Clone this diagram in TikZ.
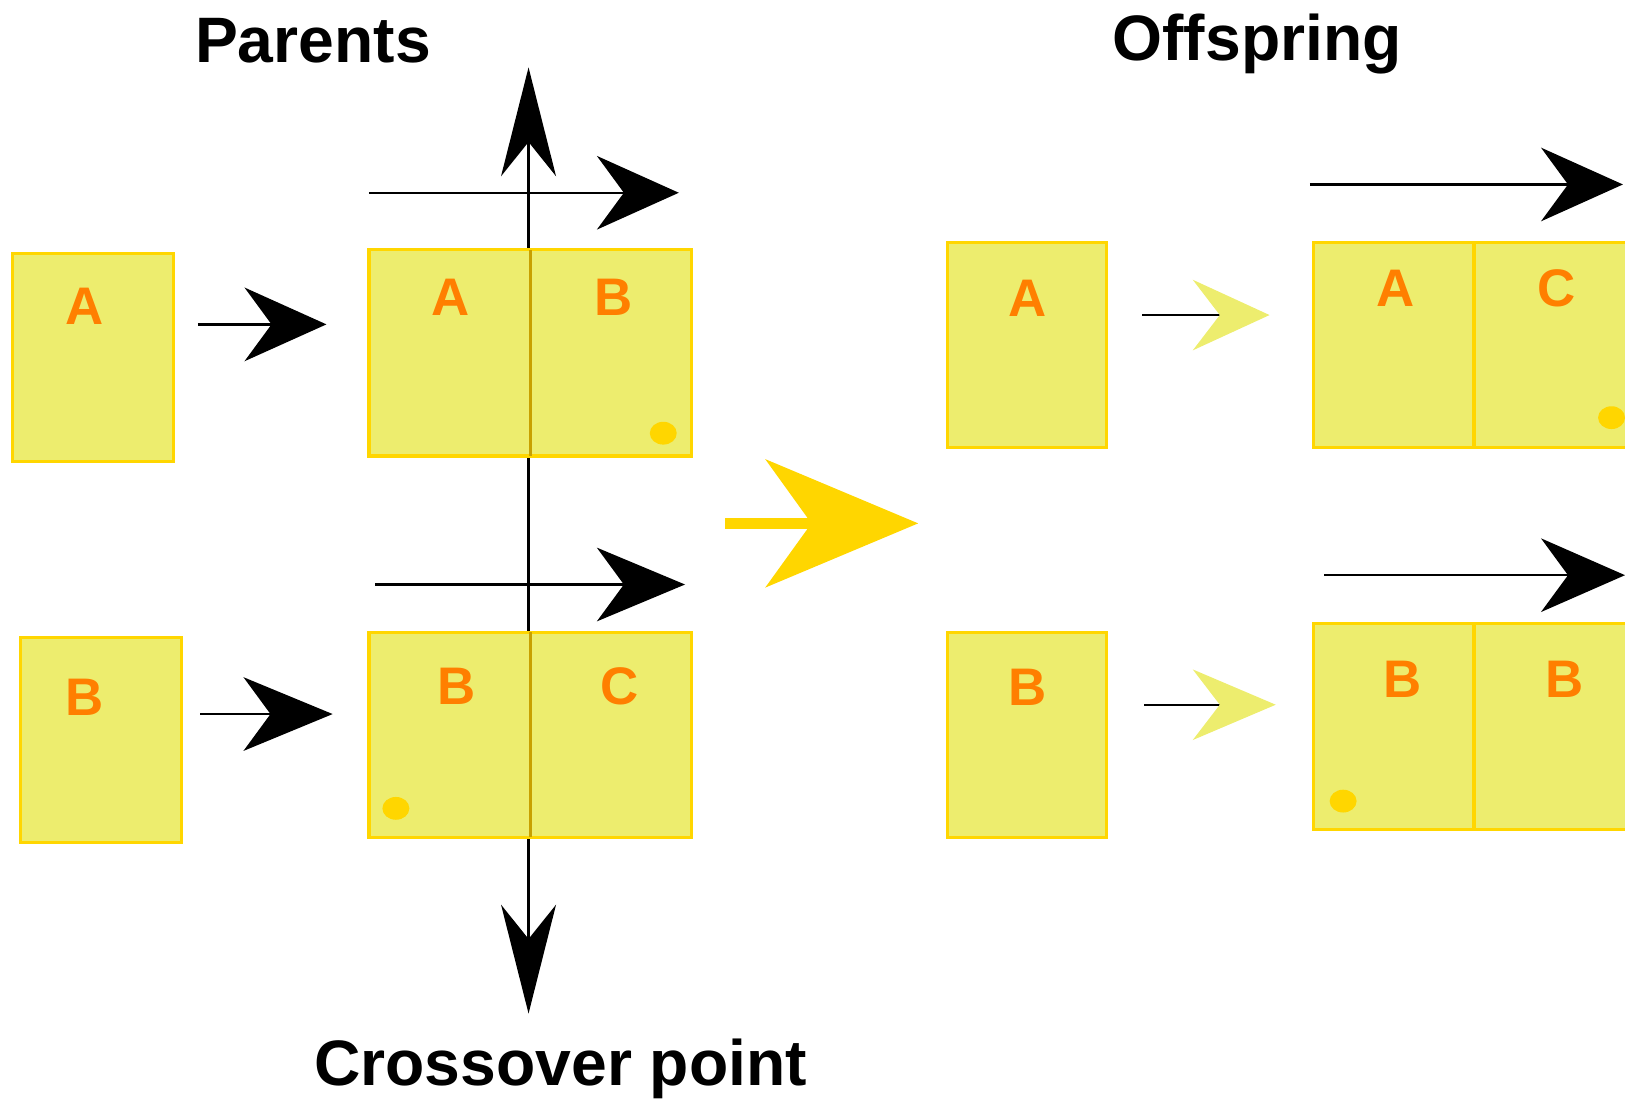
\documentclass[tikz,border=0pt]{standalone}
\usepackage{fontspec}
\setmainfont{Liberation Sans}
\usetikzlibrary{arrows.meta}
\definecolor{boxfill}{RGB}{237,237,110}
\definecolor{gold}{RGB}{255,214,0}
\definecolor{labelorange}{RGB}{255,127,0}
\definecolor{darkgold}{RGB}{200,160,0}

\begin{document}
\begin{tikzpicture}[x=0.5pt,y=-0.5pt,
  cell/.style={draw=gold, line width=1.5pt, fill=boxfill, inner sep=0pt, outer sep=0pt},
  gene/.style={text=labelorange, font=\fontsize{25.5}{30}\selectfont\bfseries, anchor=base, inner sep=0pt},
  title/.style={font=\fontsize{31}{36}\selectfont\bfseries, anchor=base, inner sep=0pt},
  dot/.style={fill=gold, draw=none},
  blackarrow/.style={line width=1.1pt, -{Stealth[length=#1, width=35.5pt, inset=13pt]}},
  blackarrow/.default=39.5pt,
  crossarrow/.style={line width=1.1pt, {Stealth[length=52.5pt, width=26.5pt, inset=16.5pt]}-{Stealth[length=52.5pt, width=26.5pt, inset=16.5pt]}},
  bigarrow/.style={draw=gold, line width=5pt, -{Stealth[length=73.5pt, width=61.5pt, inset=22pt]}},
  palearrow/.style={line width=1.1pt, -{Stealth[length=#1, width=34pt, inset=13pt, color=boxfill]}},
  palearrow/.default=37pt,
]
\useasboundingbox (0,0) rectangle (1568,1060);
\clip (0,0) rectangle (1568,1060);

% titles
\node[title] (parents) at (302,60) {Parents};
\node[title] (offspring) at (1213,58) {Offspring};
\node[title] (xpoint) at (541,1047) {Crossover point};

% crossover line (behind the parent chromosomes)
\coordinate (xtop) at (510,65);
\coordinate (xbot) at (510,978);
\draw[crossarrow] (xbot) -- (xtop);

% single parents
\node[cell, minimum width=77.5pt, minimum height=100pt] (pa) at (89.5,345) {};
\node[cell, minimum width=77.5pt, minimum height=99pt] (pb) at (97.5,714) {};
\node[gene] (paL) at (82,313) {A};
\node[gene] (pbL) at (82,690) {B};

% parent chromosomes
\node[cell, minimum width=155.5pt, minimum height=99.5pt] (p1) at (511.5,340.5) {};
\node[cell, minimum width=155.5pt, minimum height=99pt] (p2) at (511.5,709) {};
\draw[darkgold, line width=1.5pt] (p1.north) -- (p1.south);
\draw[darkgold, line width=1.5pt] (p2.north) -- (p2.south);
\node[gene] (p1a) at (435,304) {A};
\node[gene] (p1b) at (592,304) {B};
\node[gene] (p2b) at (441,680) {B};
\node[gene] (p2c) at (598,680) {C};
\fill[dot] (640,418) ellipse [x radius=13, y radius=11];
\fill[dot] (382,780) ellipse [x radius=13, y radius=11];

% offspring singles
\node[cell, minimum width=77pt, minimum height=99pt] (oa) at (991,333) {};
\node[cell, minimum width=77pt, minimum height=99pt] (ob) at (991,709) {};
\node[gene] (oaL) at (992,305) {A};
\node[gene] (obL) at (992,681) {B};

% offspring chromosomes
\node[cell, minimum width=155.5pt, minimum height=99pt] (o1) at (1422.5,333) {};
\node[cell, minimum width=155.5pt, minimum height=99pt] (o2) at (1422.5,701) {};
\draw[gold, line width=2pt] (1422,234) -- (1422,432);
\draw[gold, line width=2pt] (1422,602) -- (1422,800);
\node[gene] (o1a) at (1347,296) {A};
\node[gene] (o1c) at (1502,296) {C};
\node[gene] (o2b) at (1353,673) {B};
\node[gene] (o2bb) at (1510,673) {B};
\fill[dot] (1555,403) ellipse [x radius=13, y radius=11];
\fill[dot] (1296,773) ellipse [x radius=13, y radius=11];

% direction arrows
\coordinate (a1s) at (191,313);  \coordinate (a1e) at (315,313);
\coordinate (a2s) at (193,689);  \coordinate (a2e) at (321,689);
\coordinate (a3s) at (356,186);  \coordinate (a3e) at (655,186);
\coordinate (a4s) at (362,564);  \coordinate (a4e) at (661,564);
\coordinate (a5s) at (1264,178); \coordinate (a5e) at (1566,178);
\coordinate (a6s) at (1278,555); \coordinate (a6e) at (1568,555);
\draw[blackarrow] (a1s) -- (a1e);
\draw[blackarrow=43pt] (a2s) -- (a2e);
\draw[blackarrow] (a3s) -- (a3e);
\draw[blackarrow=42.5pt] (a4s) -- (a4e);
\draw[blackarrow] (a5s) -- (a5e);
\draw[blackarrow=40.5pt] (a6s) -- (a6e);

% pale arrows next to offspring singles
\coordinate (b1s) at (1102,304); \coordinate (b1e) at (1225,304);
\coordinate (b2s) at (1104,680); \coordinate (b2e) at (1231,680);
\draw[palearrow] (b1s) -- (b1e);
\draw[palearrow=40pt] (b2s) -- (b2e);

% main transition arrow
\coordinate (gs) at (700,505); \coordinate (ge) at (886,505);
\draw[bigarrow] (gs) -- (ge);
\end{tikzpicture}
\end{document}
